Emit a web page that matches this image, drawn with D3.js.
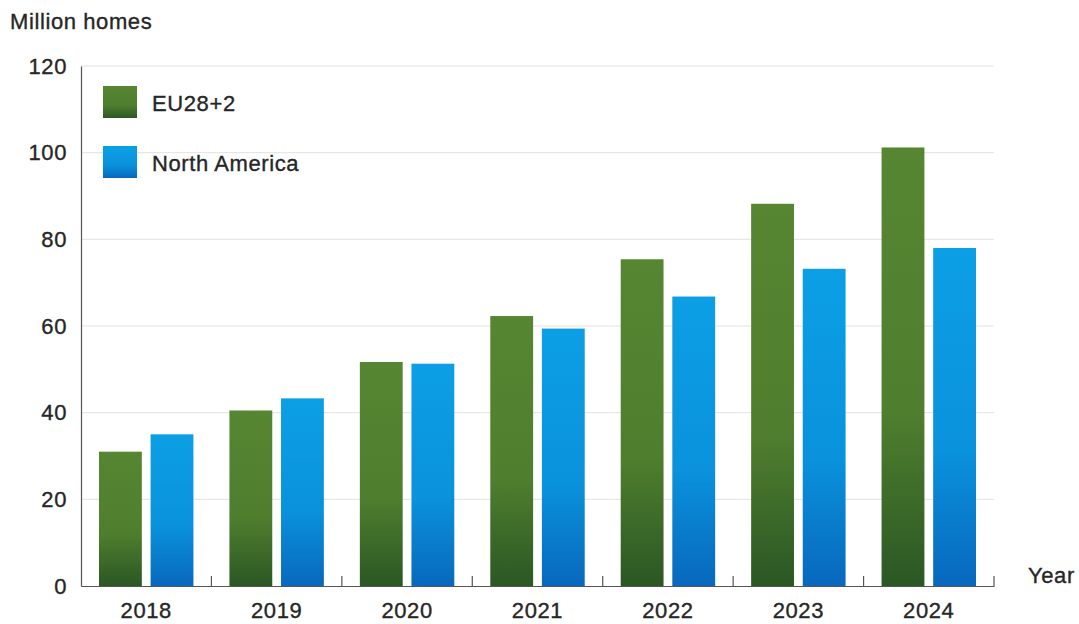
<!DOCTYPE html>
<html>
<head>
<meta charset="utf-8">
<title>Million homes</title>
<style>
  body { margin: 0; background: #fff; }
  text { font-family: "Liberation Sans", Arial, sans-serif; fill: #262626; letter-spacing: 0.6px;
         stroke: #262626; stroke-width: 0.35px; }
</style>
</head>
<body>
<script src="https://cdn.jsdelivr.net/npm/d3@7/dist/d3.min.js"></script>
<script>

// data
var years = ["2018", "2019", "2020", "2021", "2022", "2023", "2024"];
var seriesNames = ["EU28+2", "North America"];
var eu = [31, 40.5, 51.7, 62.3, 75.4, 88.2, 101.2];
var na = [35, 43.3, 51.3, 59.4, 66.8, 73.2, 78];
var yTicks = [0, 20, 40, 60, 80, 100, 120];

var width = 1079, height = 624;
var margin = { top: 66, right: 85, bottom: 38, left: 81 };
var fontSize = "22px";

var svg = d3.select("body").append("svg")
    .attr("width", width)
    .attr("height", height);

// gradients for the bars
var defs = svg.append("defs");
var grads = [
  { id: "gGreen", stops: [["0%", "#568631"], ["60%", "#4f7f2e"], ["100%", "#2b5724"]] },
  { id: "gBlue", stops: [["0%", "#0c9fe6"], ["60%", "#0a92dc"], ["100%", "#0868bd"]] }
];
grads.forEach(function(g){
  var lg = defs.append("linearGradient").attr("id", g.id)
      .attr("x1", 0).attr("y1", 0).attr("x2", 0).attr("y2", 1);
  g.stops.forEach(function(s){
    lg.append("stop").attr("offset", s[0]).attr("stop-color", s[1]);
  });
});
var fills = ["url(#gGreen)", "url(#gBlue)"];

var x0 = d3.scaleBand()
    .domain(years)
    .range([margin.left, width - margin.right]);

var x1 = d3.scaleBand()
    .domain(seriesNames)
    .range([18, x0.bandwidth() - 18])
    .paddingInner(0.17);

var y = d3.scaleLinear()
    .domain([0, 120])
    .range([height - margin.bottom, margin.top]);

// gridlines
svg.append("g")
  .selectAll("line")
  .data(yTicks.slice(1))
  .enter().append("line")
    .attr("x1", margin.left)
    .attr("x2", width - margin.right)
    .attr("y1", function(d){ return y(d); })
    .attr("y2", function(d){ return y(d); })
    .attr("stroke", "#e4e2e0")
    .attr("stroke-width", 1);

// bars
var rows = years.map(function(yr, i){
  return { year: yr, values: [eu[i], na[i]] };
});

var groups = svg.append("g").selectAll("g")
  .data(rows)
  .enter().append("g")
    .attr("transform", function(d){ return "translate(" + x0(d.year) + ",0)"; });

groups.selectAll("rect")
  .data(function(d){ return d.values.map(function(v, k){ return { name: seriesNames[k], v: v, k: k }; }); })
  .enter().append("rect")
    .attr("x", function(d){ return x1(d.name); })
    .attr("y", function(d){ return y(d.v); })
    .attr("width", x1.bandwidth())
    .attr("height", function(d){ return y(0) - y(d.v); })
    .attr("fill", function(d){ return fills[d.k]; });

// y axis
var yAxis = d3.axisLeft(y).tickValues(yTicks).tickSize(0).tickPadding(14);
var gy = svg.append("g")
    .attr("transform", "translate(" + margin.left + ",0)")
    .call(yAxis);
gy.select(".domain").attr("stroke", "#555").attr("stroke-width", 1.2);
gy.selectAll("text").attr("font-size", fontSize).attr("fill", "#262626")
    .attr("font-family", "Liberation Sans, Arial, sans-serif");

// x axis
var xAxis = d3.axisBottom(x0).tickSize(0).tickPadding(16);
var gx = svg.append("g")
    .attr("transform", "translate(0," + y(0) + ")")
    .call(xAxis);
gx.select(".domain").attr("stroke", "#555").attr("stroke-width", 1.2);
gx.selectAll("text").attr("font-size", fontSize).attr("fill", "#262626")
    .attr("font-family", "Liberation Sans, Arial, sans-serif");

// boundary ticks between groups
var bounds = years.slice(1).map(function(yr){ return x0(yr); });
bounds.push(width - margin.right);
gx.selectAll(".bt")
  .data(bounds)
  .enter().append("line")
    .attr("class", "bt")
    .attr("x1", function(d){ return d; })
    .attr("x2", function(d){ return d; })
    .attr("y1", 0)
    .attr("y2", -10)
    .attr("stroke", "#555")
    .attr("stroke-width", 1.2);

// axis titles
svg.append("text")
    .attr("x", 10).attr("y", 29)
    .attr("font-size", fontSize)
    .text("Million homes");

svg.append("text")
    .attr("x", 1028).attr("y", 583)
    .attr("font-size", fontSize)
    .text("Year");

// legend
var legend = svg.append("g");
seriesNames.forEach(function(name, k){
  var ly = 86 + k * 60;
  legend.append("rect")
      .attr("x", 103).attr("y", ly)
      .attr("width", 34).attr("height", 32)
      .attr("fill", fills[k]);
  legend.append("text")
      .attr("x", 152).attr("y", ly + 25)
      .attr("font-size", fontSize)
      .text(name);
});

</script>
</body>
</html>
